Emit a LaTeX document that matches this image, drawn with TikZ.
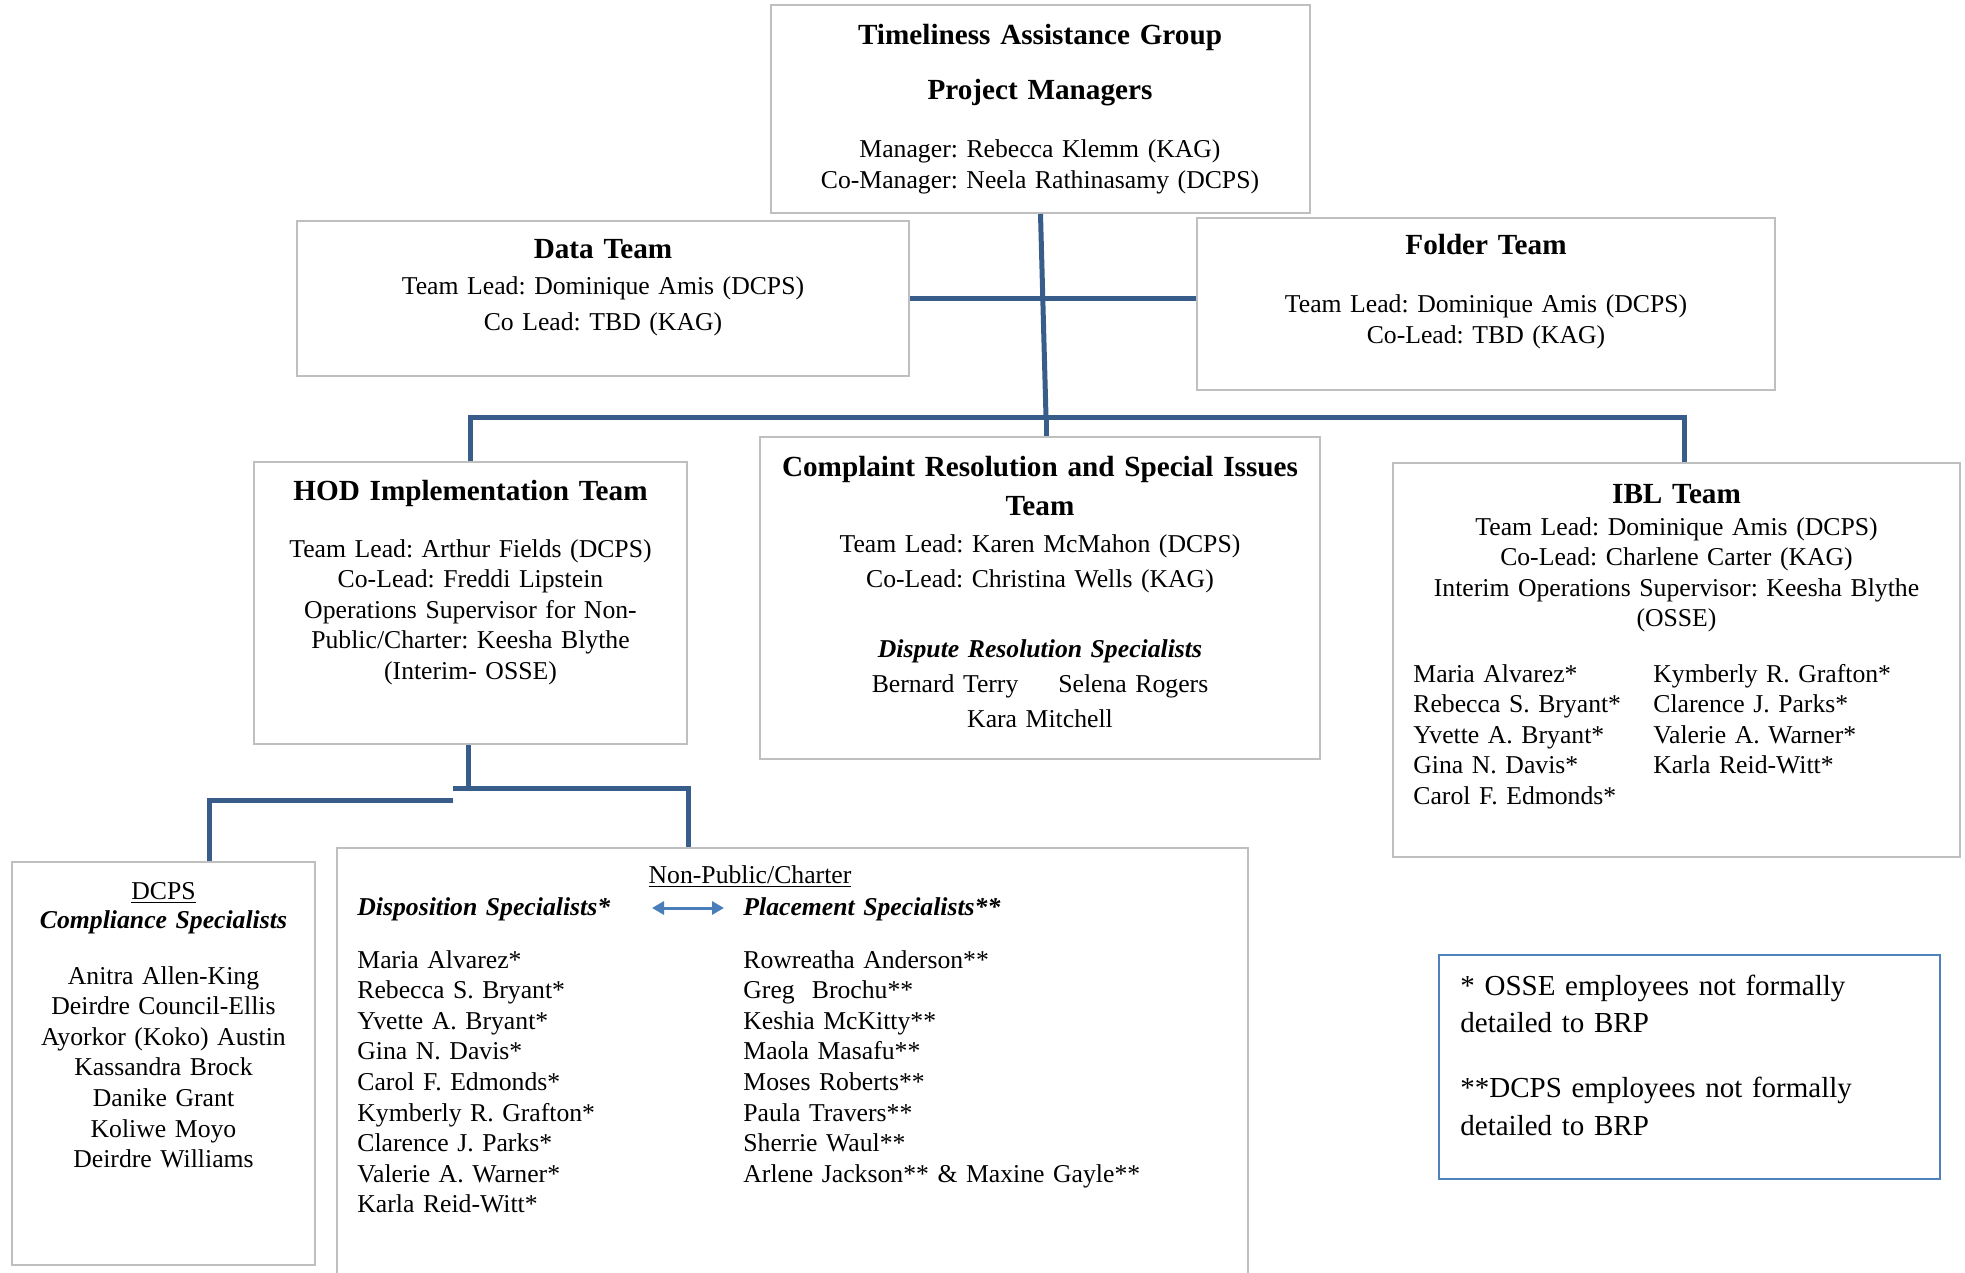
\documentclass[tikz,border=0pt]{standalone}
\usepackage{fontspec}
\setmainfont{Liberation Serif}
\usetikzlibrary{arrows.meta}
\definecolor{boxgray}{HTML}{BFBFBF}
\definecolor{linkblue}{HTML}{385D8A}
\definecolor{arrowblue}{HTML}{4A7EBB}
\definecolor{keyblue}{HTML}{4F81BD}
\frenchspacing
\newcommand\bodysize{\fontsize{12.85}{15.3}\selectfont}
\newcommand\headsize{\fontsize{14.6}{17.5}\selectfont\bfseries}
\newcommand\keysize{\fontsize{14.5}{18.75}\selectfont}
\begin{document}
\begin{tikzpicture}[x=0.5pt,y=-0.5pt,
    teambox/.style={draw=boxgray,line width=1pt,inner sep=0pt},
    linkline/.style={draw=linkblue,line width=2.5pt},
    bodytext/.style={inner sep=0pt,anchor=base,text width=290pt,align=center,font=\bodysize},
    headtext/.style={bodytext,font=\headsize},
    listtext/.style={inner sep=0pt,anchor=base west,text width=250pt,align=left,font=\bodysize}]
  \useasboundingbox (0,0) rectangle (1965,1273);
  \node[teambox,minimum width=269.5pt,minimum height=104pt] (tag) at (1040.5,109) {};
  \node[teambox,minimum width=306pt,minimum height=77.5pt] (data) at (603,298.5) {};
  \node[teambox,minimum width=289pt,minimum height=86pt] (folder) at (1486,304) {};
  \node[teambox,minimum width=216.5pt,minimum height=141pt] (hod) at (470.5,603) {};
  \node[teambox,minimum width=280pt,minimum height=161pt] (crs) at (1040,598) {};
  \node[teambox,minimum width=283.5pt,minimum height=197pt] (ibl) at (1676.5,660) {};
  \node[teambox,minimum width=151.5pt,minimum height=201.5pt] (dcps) at (163.5,1063.5) {};
  \node[teambox,minimum width=455.5pt,minimum height=221pt] (npc) at (792.5,1069) {};
  \node[teambox,draw=keyblue,minimum width=250.5pt,minimum height=112pt] (key) at (1689.5,1067) {};

  \node[headtext] (tagtitle) at (1040,45) {Timeliness Assistance Group\\[10pt]Project Managers};
  \node[bodytext] (tagnames) at (1040,158) {Manager: Rebecca Klemm (KAG)\\Co-Manager: Neela Rathinasamy (DCPS)};
  \node[headtext] (datatitle) at (603,259) {Data Team};
  \node[bodytext] (datanames) at (603,295) {Team Lead: Dominique Amis (DCPS)\\[2.2pt]Co Lead: TBD (KAG)};
  \node[headtext] (foldertitle) at (1486,255) {Folder Team};
  \node[bodytext] (foldernames) at (1486,313) {Team Lead: Dominique Amis (DCPS)\\Co-Lead: TBD (KAG)};
  \node[headtext] (hodtitle) at (470.5,500) {HOD Implementation Team};
  \node[bodytext] (hodnames) at (470.5,557) {Team Lead: Arthur Fields (DCPS)\\Co-Lead: Freddi Lipstein\\Operations Supervisor for Non-\\Public/Charter: Keesha Blythe\\(Interim- OSSE)};
  \node[headtext] (crstitle) at (1040,476) {Complaint Resolution and Special Issues\\[2pt]Team};
  \node[bodytext] (crsnames) at (1040,552) {Team Lead: Karen McMahon (DCPS)\\[2.2pt]Co-Lead: Christina Wells (KAG)};
  \node[bodytext] (crsstaff) at (1040,657) {\textbf{\textit{Dispute Resolution Specialists}}\\[2.2pt]Bernard Terry\hspace{20pt}Selena Rogers\\[2.2pt]Kara Mitchell};
  \node[headtext] (ibltitle) at (1676.5,503) {IBL Team};
  \node[bodytext] (iblnames) at (1676.5,535) {Team Lead: Dominique Amis (DCPS)\\Co-Lead: Charlene Carter (KAG)\\Interim Operations Supervisor: Keesha Blythe\\(OSSE)};
  \node[listtext] (iblleft) at (1413,682) {Maria Alvarez*\\Rebecca S. Bryant*\\Yvette A. Bryant*\\Gina N. Davis*\\Carol F. Edmonds*};
  \node[listtext] (iblright) at (1653,682) {Kymberly R. Grafton*\\Clarence J. Parks*\\Valerie A. Warner*\\Karla Reid-Witt*};
  \node[bodytext] (dcpshead) at (163.5,899) {\underline{DCPS}\\[-0.8pt]\textbf{\textit{Compliance Specialists}}};
  \node[bodytext] (dcpsnames) at (163.5,984) {Anitra Allen-King\\Deirdre Council-Ellis\\Ayorkor (Koko) Austin\\Kassandra Brock\\Danike Grant\\Koliwe Moyo\\Deirdre Williams};
  \node[bodytext] (npchead) at (750,883) {\underline{Non-Public/Charter}};
  \node[listtext,font=\bodysize\bfseries\itshape] (disphead) at (357,915) {Disposition Specialists*};
  \node[listtext,font=\bodysize\bfseries\itshape] (placehead) at (743,915) {Placement Specialists**};
  \node[listtext] (displist) at (357,968) {Maria Alvarez*\\Rebecca S. Bryant*\\Yvette A. Bryant*\\Gina N. Davis*\\Carol F. Edmonds*\\Kymberly R. Grafton*\\Clarence J. Parks*\\Valerie A. Warner*\\Karla Reid-Witt*};
  \node[listtext] (placelist) at (743,968) {Rowreatha Anderson**\\Greg\ \ Brochu**\\Keshia McKitty**\\Maola Masafu**\\Moses Roberts**\\Paula Travers**\\Sherrie Waul**\\Arlene Jackson** \& Maxine Gayle**};
  \node[listtext,font=\keysize,text width=230pt] (keytext) at (1460,995) {* OSSE employees not formally\\detailed to BRP\\[13.75pt]**DCPS employees not formally\\detailed to BRP};

  \coordinate (hub) at (1046,417);
  \coordinate (fork) at (468,788);
  \coordinate (forkl) at (453,800);
  \coordinate (swapl) at (652,908);
  \coordinate (swapr) at (724,908);
  \begin{scope}[linkline]
    \draw (tag.south) -- (hub);
    \draw (data.east) -- (data.east -| folder.west);
    \draw (hod.north) |- (hub) -| ([xshift=4pt]ibl.north);
    \draw (hub) -- (hub |- crs.north);
    \draw (hod.south -| fork) -- (fork);
    \draw ([xshift=-7.5pt]fork) -| (hod.east |- npc.north);
    \draw (forkl) -| ([xshift=23pt]dcps.north);
  \end{scope}
  \draw[{Triangle[width=6.5pt,length=6pt]}-{Triangle[width=6.5pt,length=6pt]},draw=arrowblue,line width=1.5pt] (swapl) -- (swapr);
\end{tikzpicture}
\end{document}
